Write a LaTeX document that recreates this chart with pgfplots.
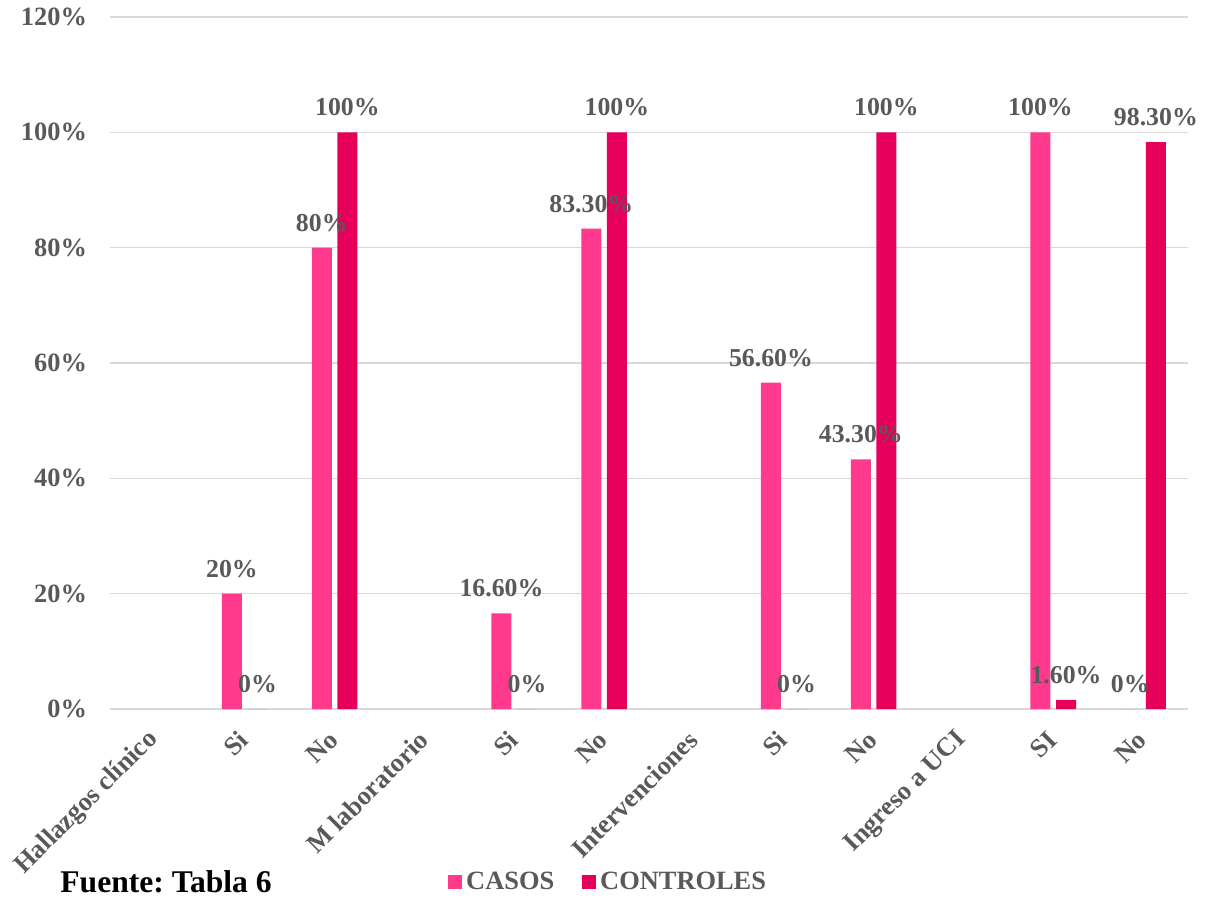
\documentclass[border=0pt]{standalone}
\usepackage{pgfplots}
\pgfplotsset{compat=1.18}
\usepackage{fontspec}
\setmainfont{Liberation Serif}
\frenchspacing
\definecolor{casos}{HTML}{FF3A8C}
\definecolor{controles}{HTML}{E6005C}
\definecolor{txt}{HTML}{595959}
\definecolor{grd}{HTML}{D9D9D9}
\begin{document}
\begin{tikzpicture}
\useasboundingbox (-55pt,-106pt) rectangle (552pt,354.5pt);
\begin{axis}[
  scale only axis, width=539pt, height=346pt,
  ybar, bar width=10pt, ybar=2.8pt,
  xmin=-0.5, xmax=11.5, ymin=0, ymax=120,
  xtick={0,...,11},
  xticklabels={Hallazgos clínico, Si, No, M laboratorio, Si, No, Intervenciones, Si, No, Ingreso a UCI, SI, No},
  ytick={0,20,...,120},
  yticklabel={\pgfmathprintnumber{\tick}\%},
  /pgf/number format/assume math mode=true,
  axis line style={draw=none},
  major tick length=0pt,
  ymajorgrids, grid style={grd, line width=0.75pt},
  tick label style={font=\fontsize{13.2}{15}\selectfont\bfseries, text=txt},
  yticklabel style={xshift=-8pt},
  xticklabel style={yshift=-11pt, xshift=2pt, rotate=45, anchor=east},
  point meta=explicit symbolic,
  nodes near coords,
  every node near coord/.append style={font=\fontsize{12.9}{15}\selectfont\bfseries, text=txt, yshift=4.5pt},
  legend style={at={(axis description cs:0.463,-0.25)}, anchor=center, draw=none, fill=none,
    legend columns=2, font=\fontsize{13.2}{15}\selectfont\bfseries, text=txt,
    /tikz/every even column/.append style={column sep=12pt}},
  legend image code/.code={\fill (0pt,-3.5pt) rectangle (7pt,3.5pt);},
]
\addplot[fill=casos, draw=none] coordinates {
  (1,20) [20\%]
  (2,80) [80\%]
  (4,16.6) [16.60\%]
  (5,83.3) [83.30\%]
  (7,56.6) [56.60\%]
  (8,43.3) [43.30\%]
  (10,100) [100\%]
  (11,0) [0\%]
};
\addlegendentry{CASOS}
\addplot[fill=controles, draw=none] coordinates {
  (1,0) [0\%]
  (2,100) [100\%]
  (4,0) [0\%]
  (5,100) [100\%]
  (7,0) [0\%]
  (8,100) [100\%]
  (10,1.6) [1.60\%]
  (11,98.3) [98.30\%]
};
\addlegendentry{CONTROLES}
\end{axis}
\node[anchor=west, inner sep=0pt, font=\fontsize{15.8}{18}\selectfont\bfseries] at (-25pt,-86.5pt) {Fuente: Tabla 6};
\end{tikzpicture}
\end{document}
